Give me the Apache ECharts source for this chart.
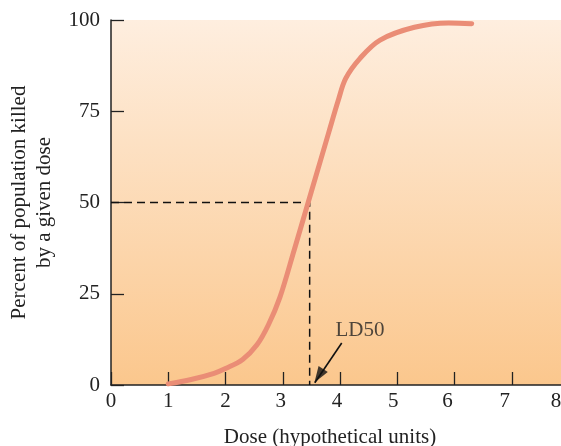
<!DOCTYPE html>
<html><head><meta charset="utf-8">
<script src="https://cdn.jsdelivr.net/npm/echarts@6/dist/echarts.min.js"></script>
<style>html,body{margin:0;padding:0;background:#fff}#c{width:561px;height:446px}</style>
</head><body><div id="c"></div>
<script>
const xTicks = [0,1,2,3,4,5,6,7,8];
const yTicks = [0,25,50,75,100];
const doseValues = [1.0,1.4,1.8,2.0,2.3,2.55,2.75,2.95,3.2,3.5,3.8,3.97,4.1,4.35,4.7,5.3,5.9,6.3];
const killedPercent = [0.3,1.5,3.2,4.5,7,11,16.5,24,37,53,69,78,84,89.5,94.5,98,99.2,99];
const ld50Dose = 3.47;
const ld50Percent = 50;
const arrowStart = [4.03, 11.5];
const arrowEnd = [3.56, 0.6];
const fontFam = '"Liberation Serif","Times New Roman",serif';
const labelShift = {0:0,1:0,2:0,3:2,4:3,5:4,6:7,7:7,8:13};

const rich = {};
xTicks.forEach(v => { rich['t'+v] = {fontFamily:fontFam, fontSize:21, color:'#222', padding:[0, labelShift[v]*2, 0, 0]}; });

const chart = echarts.init(document.getElementById('c'));
chart.setOption({
  animation:false,
  grid:{left:111, top:20, right:-8, bottom:61, show:true, borderWidth:0, outerBoundsMode:'none', containLabel:false,
    backgroundColor:{type:'linear',x:0,y:0,x2:0,y2:1,colorStops:[{offset:0,color:'#FEEEDF'},{offset:1,color:'#FBC78D'}]}},
  xAxis:{type:'value', min:0, max:8, interval:1,
    name:'Dose (hypothetical units)', nameLocation:'middle', nameGap:42,
    nameTextStyle:{fontFamily:fontFam, fontSize:21, color:'#222', padding:[0,20,0,0]},
    axisLine:{show:true, onZero:false, lineStyle:{color:'#222', width:1.5}},
    axisTick:{show:true, inside:true, length:13, lineStyle:{color:'#222', width:1.3}},
    axisLabel:{fontFamily:fontFam, fontSize:21, color:'#222', margin:6, showMaxLabel:true,
      formatter:(v)=>'{t'+v+'|'+v+'}', rich:rich},
    splitLine:{show:false}},
  yAxis:{type:'value', min:0, max:100, interval:25,
    name:'Percent of population killed\nby a given dose', nameLocation:'middle', nameGap:54,
    nameTextStyle:{fontFamily:fontFam, fontSize:21, color:'#222', lineHeight:25},
    axisLine:{show:true, lineStyle:{color:'#222', width:1.5}},
    axisTick:{show:true, inside:true, length:13, lineStyle:{color:'#222', width:1.3}},
    axisLabel:{fontFamily:fontFam, fontSize:21, color:'#222', margin:11},
    splitLine:{show:false}},
  series:[
    {type:'line', data:doseValues.map((d,i)=>[d,killedPercent[i]]), smooth:0.35, showSymbol:false,
     lineStyle:{color:'#EA8D76', width:5, cap:'round'}, z:3},
    {type:'line', data:[[0,ld50Percent],[ld50Dose,ld50Percent],[ld50Dose,0]], showSymbol:false,
     lineStyle:{color:'#111', width:1.5, type:[8,5]}, z:2},
    {type:'line', data:[arrowStart, arrowEnd], showSymbol:false, z:4,
     lineStyle:{color:'#111', width:1.6}},
    {type:'scatter', data:[[arrowEnd[0],arrowEnd[1]]], symbol:'triangle', symbolSize:[11,16],
     symbolRotate:147, symbolOffset:[4,-7], itemStyle:{color:'#111'}, z:5},
    {type:'scatter', data:[[4.35,15]], symbolSize:0,
     label:{show:true, formatter:'LD50', position:'inside', fontFamily:fontFam, fontSize:21, color:'#222'}, z:6}
  ]
});
</script></body></html>
